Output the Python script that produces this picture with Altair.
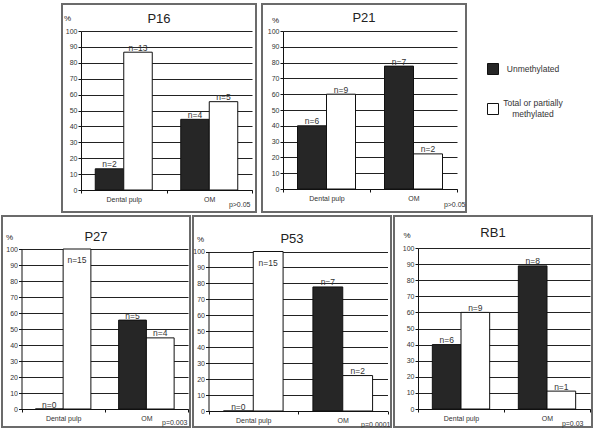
import altair as alt
import pandas as pd

# categories and series
tissues = ["Dental pulp", "OM"]
statuses = ["Unmethylated", "Total or partially methylated"]

# sample counts per gene, in order:
# Dental pulp unmethylated, Dental pulp methylated, OM unmethylated, OM methylated
n_p16 = [2, 13, 4, 5]
n_p21 = [6, 9, 7, 2]
n_p27 = [0, 15, 5, 4]
n_p53 = [0, 15, 7, 2]
n_rb1 = [6, 9, 8, 1]

genes = ["P16", "P21", "P27", "P53", "RB1"]
gene_counts = [n_p16, n_p21, n_p27, n_p53, n_rb1]
p_values = ["p>0.05", "p>0.05", "p=0.003", "p=0.0001", "p=0.03"]

y_ticks = [0, 10, 20, 30, 40, 50, 60, 70, 80, 90, 100]

FONT = "Liberation Sans"
DARK = "#262626"
FRAME = "#6b6b6b"
INK = "#333333"

# per-panel frame size and inner plot geometry (pixels inside the frame)
geometry = {
    "P16": dict(w=194, h=208, x0=19, x1=190, y100=27, y0=186, title=17.5, pct=(5, 14), pv=(188, 200)),
    "P21": dict(w=204, h=208, x0=21, x1=195, y100=27, y0=185, title=16.5, pct=(13, 16), pv=(203, 200)),
    "P27": dict(w=188, h=211, x0=19.5, x1=186, y100=33, y0=193, title=23.5, pct=(7, 21.5), pv=(185, 206)),
    "P53": dict(w=198, h=211, x0=15.5, x1=194.5, y100=35.5, y0=195, title=26, pct=(7, 23), pv=(197, 208)),
    "RB1": dict(w=198, h=211, x0=24, x1=196, y100=32, y0=193, title=19.5, pct=(12.5, 19), pv=(189, 207)),
}

two_line = "Total or partially methylated"
legend = alt.Legend(
    orient="none", legendX=485, legendY=59, title=None, padding=0,
    symbolType="square", symbolSize=121, symbolStrokeColor="#111", symbolStrokeWidth=1,
    symbolOpacity=1, labelFont=FONT, labelFontSize=8.5, labelColor=INK,
    labelAlign="center", labelOffset=34, rowPadding=22,
    labelExpr=f"datum.label == '{two_line}' ? ['Total or partially', 'methylated'] : datum.label",
    labelBaseline={"expr": f"datum.label == '{two_line}' ? 'line-bottom' : 'middle'"},
)


def panel(gene, counts, p_text):
    g = geometry[gene]
    df = pd.DataFrame({
        "tissue": [tissues[0], tissues[0], tissues[1], tissues[1]],
        "status": statuses * 2,
        "n": counts,
    })
    base = (
        alt.Chart(df)
        .transform_joinaggregate(total="sum(n)", groupby=["tissue"])
        .transform_calculate(pct="100 * datum.n / datum.total", label="'n=' + datum.n")
    )
    x = alt.X(
        "tissue:N",
        sort=tissues,
        scale=alt.Scale(domain=tissues, range=[g["x0"], g["x1"]], paddingInner=0, paddingOuter=0),
        axis=alt.Axis(
            title=p_text, offset=g["y0"] - g["h"], tickBand="extent", labelAngle=0,
            grid=False, tickSize=3, labelPadding=2, labelFontSize=7, labelColor=INK,
            titleX=g["pv"][0], titleY=g["pv"][1] - g["y0"], titleAlign="right",
            titleBaseline="middle", titleFontSize=7, titleFontWeight="normal", titleColor=INK,
        ),
    )
    xo = alt.XOffset(
        "status:N", sort=statuses,
        scale=alt.Scale(domain=statuses, paddingOuter=0.5, paddingInner=0),
    )
    y = alt.Y(
        "pct:Q",
        scale=alt.Scale(domain=[0, 100], range=[g["y0"], g["y100"]], nice=False),
        axis=alt.Axis(
            values=y_ticks, title="%", titleAngle=0, offset=-g["x0"],
            titleX=g["pct"][0] - g["x0"], titleY=g["pct"][1], titleAlign="center",
            titleBaseline="middle", titleFontSize=8, titleFontWeight="normal", titleColor="#222",
            grid=True, tickSize=3, labelPadding=1, labelFontSize=7, labelColor=INK,
        ),
    )
    bars = base.mark_bar(stroke="#111", strokeWidth=1, opacity=1).encode(
        x=x, xOffset=xo, y=y,
        color=alt.Color("status:N", scale=alt.Scale(domain=statuses, range=[DARK, "#ffffff"]), legend=legend),
    )
    above = base.transform_filter("datum.pct < 100").mark_text(
        baseline="alphabetic", dy=-1.5, fontSize=8.5, font=FONT, color=INK
    ).encode(x=x, xOffset=xo, y=y, text="label:N")
    inside = base.transform_filter("datum.pct >= 100").mark_text(
        baseline="middle", dy=11, fontSize=8.5, font=FONT, color=INK
    ).encode(x=x, xOffset=xo, y=y, text="label:N")
    return alt.layer(bars, above, inside).properties(
        width=g["w"], height=g["h"],
        title=alt.TitleParams(text=gene, offset=-(g["title"] + 14), baseline="alphabetic",
                              anchor="middle", frame="group"),
        view=alt.ViewBackground(stroke=FRAME, strokeWidth=2),
    )


panels = [panel(gn, c, p) for gn, c, p in zip(genes, gene_counts, p_values)]

# empty left margin of the upper row
spacer = alt.Chart(pd.DataFrame({"s": [0]})).mark_point(opacity=0).encode(
    x=alt.value(20), y=alt.value(100)
).properties(width=54, height=208)

res = dict(x="independent", y="independent", xOffset="independent", color="shared")
top = alt.hconcat(spacer, panels[0], panels[1], spacing=6, bounds="flush").resolve_scale(**res)
bottom = alt.hconcat(panels[2], panels[3], panels[4], spacing=3, bounds="flush").resolve_scale(**res)

chart = (
    alt.vconcat(top, bottom, spacing=2)
    .resolve_scale(**res)
    .properties(padding={"left": 1, "top": 3, "right": 0, "bottom": 0})
    .configure(font=FONT)
    .configure_view(stroke="transparent")
    .configure_axis(
        labelFont=FONT, labelColor=INK, domainColor="#111", tickColor="#111",
        gridColor="#222", gridWidth=1, domainWidth=1, titleFont=FONT,
    )
    .configure_title(font=FONT, fontSize=13, fontWeight="normal", color="#222")
)

chart.save("out.html", embed_options={"renderer": "svg", "actions": False})
